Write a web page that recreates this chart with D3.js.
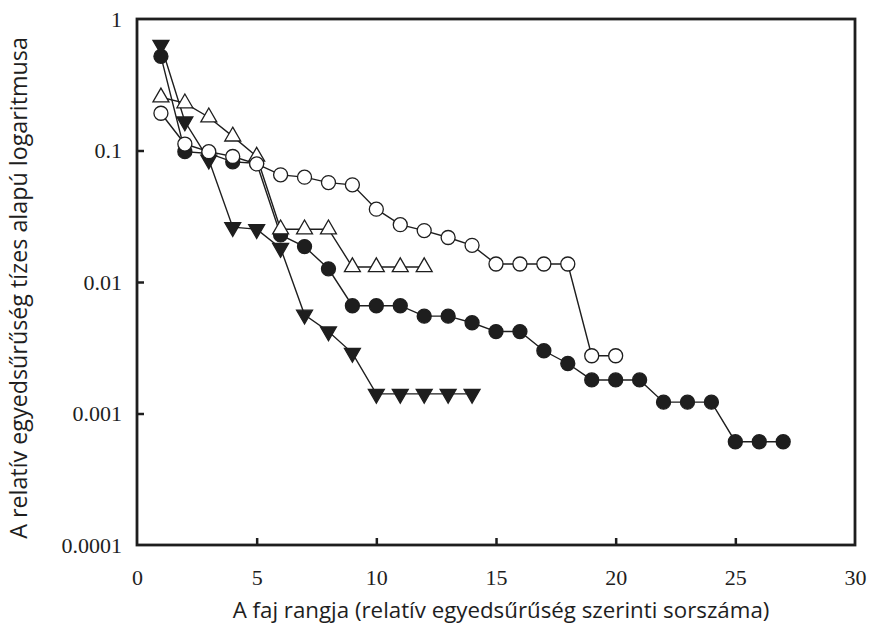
<!DOCTYPE html>
<html><head><meta charset="utf-8">
<script src="https://cdn.jsdelivr.net/npm/d3@7"></script>
<style>body{margin:0;background:#fff}</style>
</head><body>
<svg id="c" width="877" height="628"></svg>
<script>
const ranksFilledCircle = d3.range(1, 28);
const filledCircle = [0.52,0.098,0.095,0.082,0.08,0.0228,0.0186,0.0126,0.0066,0.0066,0.0066,0.0055,0.0055,0.0049,0.0042,0.0042,0.0030,0.0024,0.0018,0.0018,0.0018,0.00122,0.00122,0.00122,0.00061,0.00061,0.00061];
const ranksOpenCircle = d3.range(1, 21);
const openCircle = [0.192,0.112,0.098,0.090,0.079,0.0653,0.0627,0.057,0.0548,0.0358,0.0273,0.0246,0.0218,0.019,0.0137,0.0137,0.0137,0.0137,0.00275,0.00275];
const ranksOpenTri = d3.range(1, 13);
const openTri = [0.254,0.229,0.179,0.128,0.090,0.0252,0.0252,0.0252,0.013,0.013,0.013,0.013];
const ranksDownTri = d3.range(1, 15);
const downTri = [0.634,0.166,0.085,0.0261,0.0252,0.0181,0.00563,0.0042,0.00288,0.00141,0.00141,0.00141,0.00141,0.00141];
const xTicks = [0,5,10,15,20,25,30];
const yTicks = [1,0.1,0.01,0.001,0.0001];
const yTickLabels = ["1","0.1","0.01","0.001","0.0001"];
const xTitle = "A faj rangja (relatív egyedsűrűség szerinti sorszáma)";
const yTitle = "A relatív egyedsűrűség tízes alapú logaritmusa";

const svg = d3.select("#c");
const L = 137, R = 855, T = 19, B = 545;
const x = d3.scaleLinear().domain([0,30]).range([L,R]);
const y = d3.scaleLog().domain([1e-4,1]).range([B,T]);
const ink = "#1e1e1e";
const serif = "'Liberation Serif','Times New Roman',serif";
const sans = "'Open Sans','Noto Sans',sans-serif";

const xa = svg.append("g").attr("transform",`translate(0,${B})`)
  .call(d3.axisBottom(x).tickValues(xTicks).tickSizeInner(-7).tickSizeOuter(0).tickPadding(24).tickFormat(d3.format("d")));
const ya = svg.append("g").attr("transform",`translate(${L},0)`)
  .call(d3.axisLeft(y).tickValues(yTicks).tickSizeInner(-7).tickSizeOuter(0).tickPadding(15).tickFormat((d,i)=>yTickLabels[i]));
[xa,ya].forEach(a=>{
  a.attr("font-family",serif).attr("font-size",22);
  a.select(".domain").remove();
  a.selectAll(".tick line").attr("stroke",ink).attr("stroke-width",2.5);
  a.selectAll(".tick text").attr("fill",ink).style("font-family",serif).style("font-size","22px");
});
xa.selectAll(".tick").filter(d=>d===0||d===30).select("line").remove();
ya.selectAll(".tick").filter(d=>d===1||d===1e-4).select("line").remove();

svg.append("rect").attr("x",L).attr("y",T).attr("width",R-L).attr("height",B-T)
  .attr("fill","none").attr("stroke",ink).attr("stroke-width",2.8);

const line = d3.line().x(d=>x(d[0])).y(d=>y(d[1]));
const series = [
  {r:ranksFilledCircle, v:filledCircle, sym:"circle", fill:ink},
  {r:ranksDownTri, v:downTri, sym:"down", fill:ink},
  {r:ranksOpenTri, v:openTri, sym:"up", fill:"#fff"},
  {r:ranksOpenCircle, v:openCircle, sym:"circle", fill:"#fff"}
];
series.forEach(s=>{
  const pts = s.r.map((r,i)=>[r,s.v[i]]);
  svg.append("path").attr("d",line(pts)).attr("fill","none").attr("stroke",ink).attr("stroke-width",1.4);
});
series.forEach(s=>{
  const pts = s.r.map((r,i)=>[r,s.v[i]]);
  const g = svg.append("g");
  pts.forEach(p=>{
    if(s.sym==="circle"){
      g.append("circle").attr("cx",x(p[0])).attr("cy",y(p[1])).attr("r",7)
        .attr("fill",s.fill).attr("stroke",ink).attr("stroke-width",1.3);
    } else {
      const sym = d3.symbol().type(d3.symbolTriangle).size(110);
      g.append("path").attr("d",sym())
        .attr("transform",`translate(${x(p[0])},${y(p[1])})${s.sym==="down"?" rotate(180)":""}`)
        .attr("fill",s.fill).attr("stroke",ink).attr("stroke-width",1.3);
    }
  });
});

svg.append("text").attr("x",501).attr("y",618).attr("text-anchor","middle")
  .attr("fill",ink).style("font-family",sans).style("font-size","22.3px").text(xTitle);
svg.append("text").attr("transform",`translate(27,288) rotate(-90)`).attr("text-anchor","middle")
  .attr("fill",ink).style("font-family",sans).style("font-size","23.3px").text(yTitle);
</script>
</body></html>
